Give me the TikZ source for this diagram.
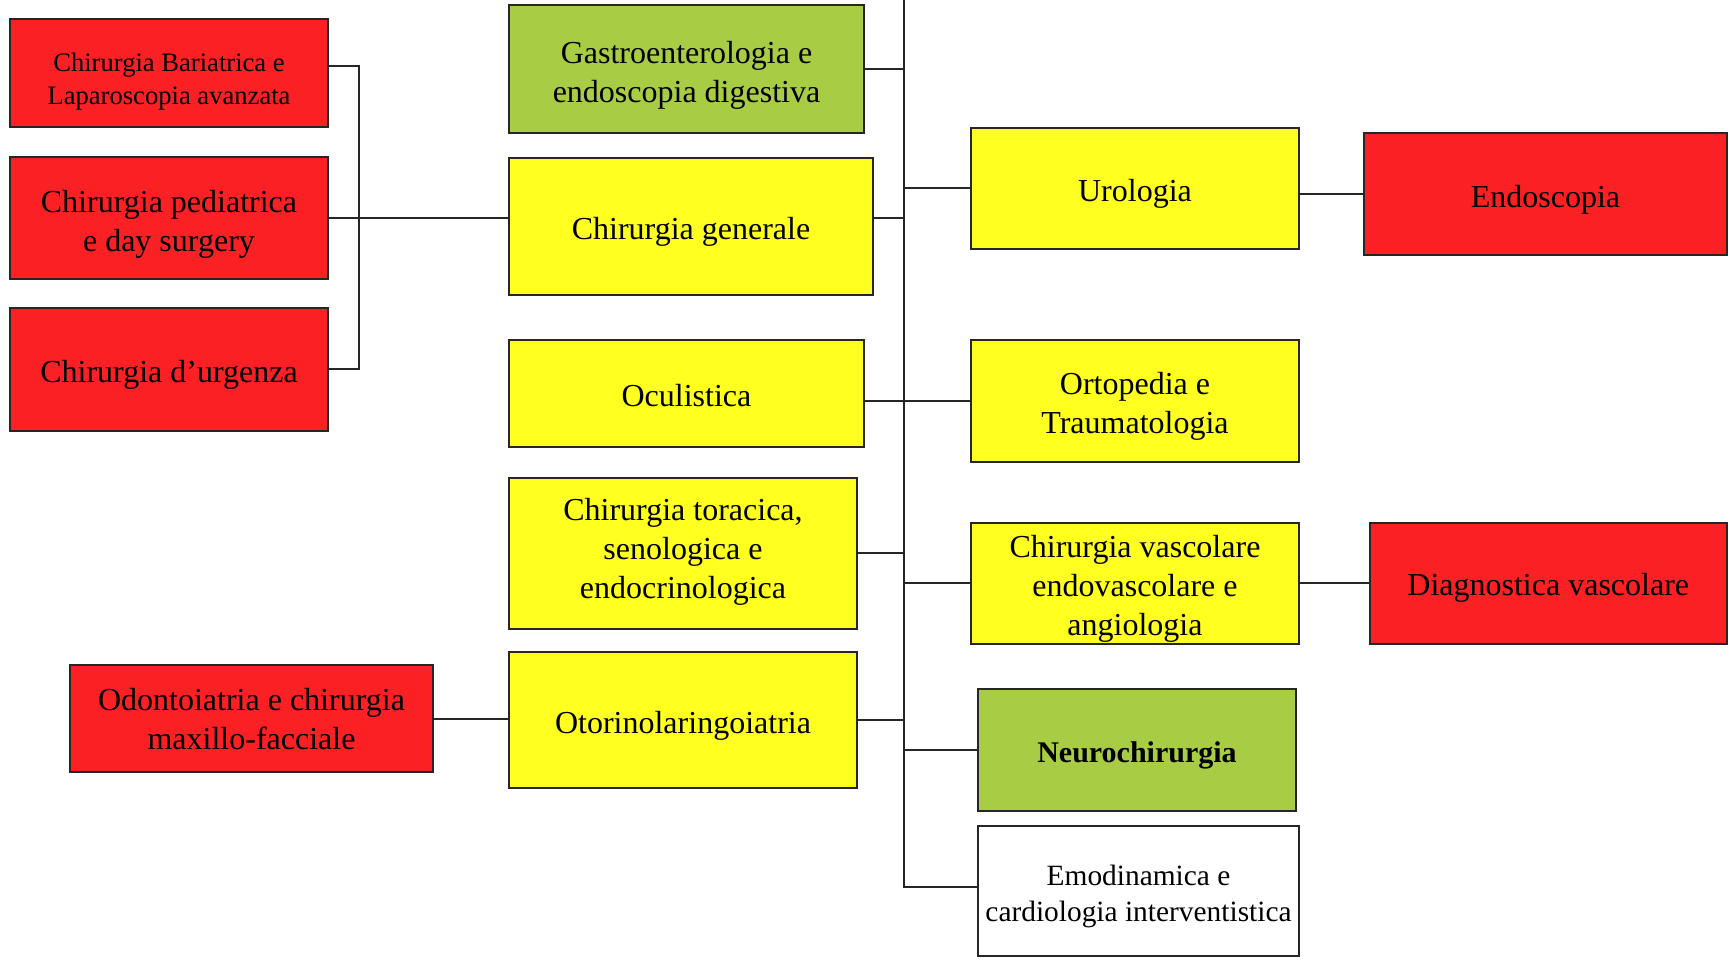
\documentclass[tikz,border=0pt]{standalone}
\usepackage{fontspec}
\setmainfont{Liberation Serif}
\definecolor{boxred}{RGB}{250,32,36}
\definecolor{boxyellow}{RGB}{255,255,32}
\definecolor{boxgreen}{RGB}{168,204,68}
\newcommand\tx[2][2.75pt]{\raisebox{-#1}[\height][\depth]{\begin{tabular}{@{}c@{}}#2\end{tabular}}}
\tikzset{
  box/.style={draw=black!85, line width=1.2pt, align=center, inner sep=0pt,
    font=\fontsize{16}{19.5}\selectfont},
  redbox/.style={box, fill=boxred},
  yelbox/.style={box, fill=boxyellow},
  grnbox/.style={box, fill=boxgreen},
  wire/.style={draw=black!85, line width=1pt},
}
\begin{document}
\begin{tikzpicture}[x=0.5pt, y=-0.5pt]
\useasboundingbox (0,0) rectangle (1728,961);
% left column
\node[redbox, minimum width=159pt, minimum height=54pt, font=\fontsize{13.3}{16.5}\selectfont] (bar) at (169,73) {\tx[4.4pt]{Chirurgia Bariatrica e\\Laparoscopia avanzata}};
\node[redbox, minimum width=159pt, minimum height=61pt] (ped) at (169,218) {\tx[3pt]{Chirurgia pediatrica\\e day surgery}};
\node[redbox, minimum width=159pt, minimum height=61.5pt] (urg) at (169,369.5) {\tx{Chirurgia d’urgenza}};
\node[redbox, minimum width=181.5pt, minimum height=53.5pt] (odo) at (251.5,718.5) {\tx[1.6pt]{Odontoiatria e chirurgia\\maxillo-facciale}};
% middle column
\node[grnbox, minimum width=177.5pt, minimum height=64pt] (gas) at (686.5,69) {\tx[3.2pt]{Gastroenterologia e\\endoscopia digestiva}};
\node[yelbox, minimum width=182pt, minimum height=68.5pt] (gen) at (691,226.5) {\tx{Chirurgia generale}};
\node[yelbox, minimum width=177.5pt, minimum height=53.5pt] (ocu) at (686.5,393.5) {\tx[2.6pt]{Oculistica}};
\node[yelbox, minimum width=174pt, minimum height=75.5pt] (tor) at (683,553.5) {\tx[-1pt]{Chirurgia toracica,\\senologica e\\endocrinologica}};
\node[yelbox, minimum width=174pt, minimum height=68pt] (oto) at (683,720) {\tx{Otorinolaringoiatria}};
% right column
\node[yelbox, minimum width=164pt, minimum height=60.5pt] (uro) at (1135,188.5) {\tx{Urologia}};
\node[yelbox, minimum width=164pt, minimum height=61pt] (ort) at (1135,401) {\tx{Ortopedia e\\Traumatologia}};
\node[yelbox, minimum width=164pt, minimum height=60.5pt] (vas) at (1135,583.5) {\tx{Chirurgia vascolare\\endovascolare e\\angiologia}};
\node[grnbox, minimum width=159pt, minimum height=61pt, font=\fontsize{15}{18}\selectfont\bfseries] (neu) at (1137,750) {\tx{Neurochirurgia}};
\node[box, fill=white, minimum width=160.5pt, minimum height=65pt, font=\fontsize{14.7}{17.6}\selectfont] (emo) at (1138.5,891) {\tx{Emodinamica e\\cardiologia interventistica}};
% far right
\node[redbox, minimum width=181.5pt, minimum height=61pt] (end) at (1545.5,194) {\tx{Endoscopia}};
\node[redbox, minimum width=178.5pt, minimum height=60.5pt] (dia) at (1548.25,583.5) {\tx[2.2pt]{Diagnostica vascolare}};
% trunk
\coordinate (ttop) at (904,0);
\coordinate (tbot) at (904,887);
\coordinate (bk) at (359,0);
\draw[wire] (ttop) -- (tbot) -- (tbot -| emo.west);
% bracket on the left
\draw[wire] ([yshift=3.5pt]bar.east) -- ([yshift=3.5pt]bar.east -| bk) -- (urg.east -| bk) -- (urg.east);
\draw[wire] (ped.east) -- (ped.east -| gen.west);
% branches into trunk
\draw[wire] (gas.east) -- (gas.east -| ttop);
\draw[wire] (ped.east -| gen.east) -- (ped.east -| ttop);
\draw[wire] (uro.west -| ttop) -- (uro.west);
\draw[wire] (ocu.east |- ort.west) -- (ort.west);
\draw[wire] (tor.east) -- (tor.east -| ttop);
\draw[wire] (vas.west -| ttop) -- (vas.west);
\draw[wire] (oto.east) -- (oto.east -| ttop);
\draw[wire] (neu.west -| ttop) -- (neu.west);
% side links
\draw[wire] (uro.east |- end.west) -- (end.west);
\draw[wire] (vas.east) -- (dia.west);
\draw[wire] (odo.east) -- (odo.east -| oto.west);
\end{tikzpicture}
\end{document}
